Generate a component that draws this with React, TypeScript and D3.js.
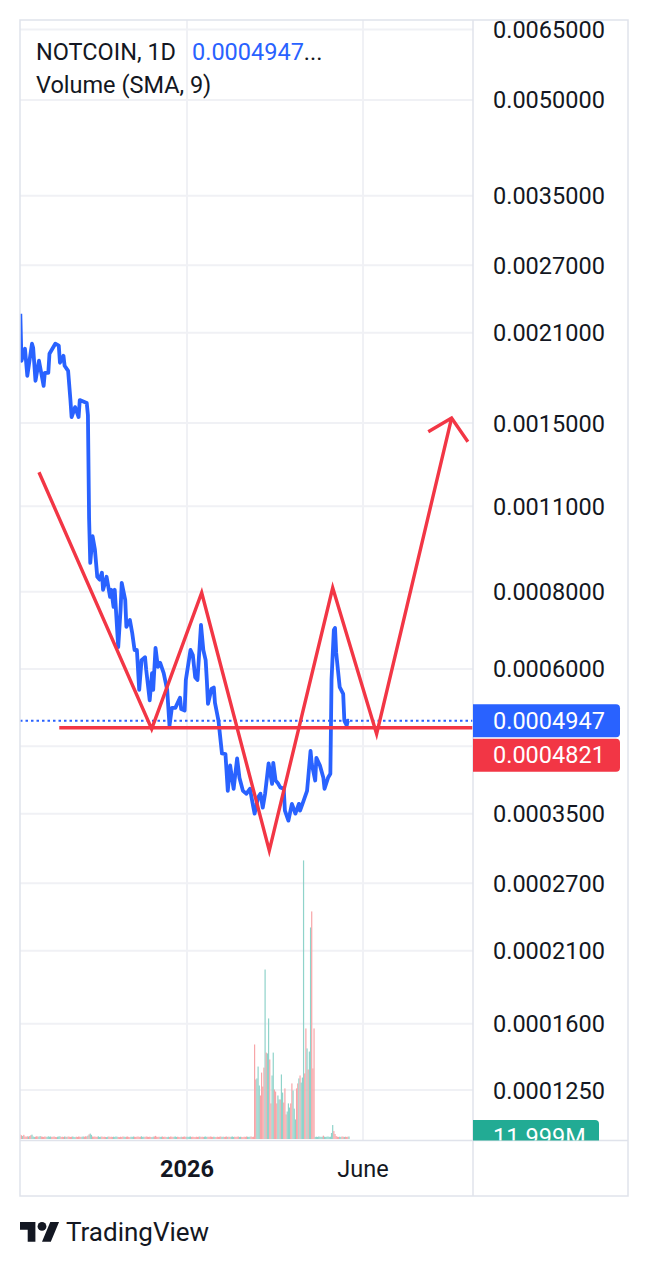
import { useEffect, useRef } from 'react';
import * as d3 from 'd3';

const W = 648;
const H = 1266;
const DAY = 86400000;
const BASE = Date.UTC(2026, 0, 1);

// price axis ticks (log scale); 0.00045 sits under the price labels
const priceTicks = [0.0065, 0.005, 0.0035, 0.0027, 0.0021, 0.0015, 0.0011, 0.0008, 0.0006, 0.00045, 0.00035, 0.00027, 0.00021, 0.00016, 0.000125];
const hiddenTicks = [0.00045];
const timeTicks = [
  { day: 0, label: '2026', bold: true },
  { day: 151, label: 'June', bold: false },
];

// daily closes, [day from 2026-01-01, price]
const closes: [number, number][] = [
  [-143, 0.002254], [-142, 0.001892], [-139, 0.001978], [-137, 0.001789], [-133, 0.002016],
  [-132, 0.001986], [-130, 0.001756], [-127, 0.001892], [-123, 0.001723], [-122, 0.001809],
  [-119, 0.001809], [-118, 0.001942], [-113, 0.002016], [-110, 0.002001], [-109, 0.001878],
  [-106, 0.001927], [-105, 0.001857], [-102, 0.001822], [-100, 0.001634], [-99, 0.001534],
  [-96, 0.001592], [-93, 0.001534], [-92, 0.001634], [-88, 0.001622], [-86, 0.001616],
  [-85, 0.001545], [-84, 0.00105], [-83, 0.000891], [-81, 0.000984], [-79, 0.000936],
  [-77, 0.000846], [-75, 0.000837], [-73, 0.000859], [-72, 0.000806], [-69, 0.000846],
  [-66, 0.000785], [-65, 0.000806], [-63, 0.000756], [-62, 0.000806], [-59, 0.000651],
  [-57, 0.000748], [-56, 0.000827], [-53, 0.000776], [-52, 0.000702], [-49, 0.00072],
  [-47, 0.000686], [-45, 0.000644], [-43, 0.000644], [-41, 0.000555], [-39, 0.00062],
  [-36, 0.000627], [-35, 0.000598], [-32, 0.000534], [-30, 0.000591], [-29, 0.000555],
  [-27, 0.000649], [-25, 0.000605], [-23, 0.000614], [-20, 0.000591], [-17, 0.000555],
  [-15, 0.000486], [-13, 0.000519], [-10, 0.000519], [-6, 0.000539], [-5, 0.000517],
  [-2, 0.000514], [-1, 0.000576], [3, 0.000644], [5, 0.000632], [7, 0.000582],
  [9, 0.000576], [12, 0.000707], [14, 0.000644], [16, 0.00062], [17, 0.000576],
  [18, 0.000527], [21, 0.000557], [23, 0.00056], [24, 0.000529], [27, 0.000495],
  [30, 0.000438], [33, 0.000437], [35, 0.000381], [37, 0.000419], [40, 0.000384],
  [43, 0.00043], [45, 0.0004], [48, 0.000381], [51, 0.000377], [54, 0.000384],
  [57, 0.000358], [58, 0.00035], [61, 0.000372], [63, 0.000377], [65, 0.000358],
  [67, 0.000377], [70, 0.000422], [73, 0.000391], [74, 0.000423], [76, 0.000396],
  [78, 0.000392], [80, 0.000386], [83, 0.000384], [84, 0.000354], [87, 0.000341],
  [90, 0.000363], [93, 0.00035], [96, 0.000363], [97, 0.000354], [100, 0.000367],
  [103, 0.000381], [104, 0.0004], [106, 0.000442], [107, 0.000422], [110, 0.000396],
  [111, 0.000431], [114, 0.000419], [117, 0.0004], [118, 0.000384], [121, 0.0004],
  [123, 0.000406], [124, 0.000576], [126, 0.000694], [127, 0.000699], [128, 0.000637],
  [131, 0.000561], [134, 0.000547], [135, 0.000495], [137, 0.000486], [138, 0.000495],
  [139, 0.0004947],
];

// daily volume in millions, first bar on day -143
const volumeStart = -143;
const volumes = [
  22, 18, 14, 20, 12, 11, 13, 12, 14, 18, 21, 12, 10, 11, 13, 12, 11, 14, 12, 11,
  10, 12, 11, 10, 13, 11, 12, 10, 11, 12, 10, 9, 11, 12, 13, 10, 11, 10, 12, 11,
  10, 12, 11, 10, 11, 12, 10, 9, 11, 10, 12, 11, 10, 11, 12, 11, 13, 12, 16, 22,
  26, 20, 12, 11, 12, 10, 11, 13, 10, 11, 12, 10, 11, 10, 9, 11, 12, 10, 11, 10,
  11, 10, 12, 11, 10, 9, 11, 10, 12, 11, 10, 11, 12, 10, 9, 11, 10, 12, 11, 10,
  11, 12, 10, 11, 13, 10, 11, 10, 12, 11, 10, 11, 10, 9, 11, 12, 15, 11, 10, 11,
  10, 11, 12, 10, 11, 10, 9, 11, 10, 12, 11, 10, 11, 12, 10, 11, 10, 9, 11, 10,
  11, 12, 10, 11, 10, 11, 12, 10, 11, 10, 9, 11, 10, 11, 12, 10, 11, 10, 11, 12,
  10, 11, 10, 12, 11, 10, 11, 10, 9, 11, 10, 11, 12, 10, 11, 10, 11, 12, 10, 11,
  10, 11, 12, 10, 11, 10, 11, 12, 10, 11, 10, 9, 11, 10, 12, 11, 10, 11, 12, 10,
  11,
  454, 286, 291, 348, 257, 209, 319, 252, 343, 814,
  415, 411, 579, 382, 171, 305, 415, 238, 228, 171,
  209, 190, 190, 310, 223, 175, 243, 118, 132, 171,
  151, 171, 267, 233, 146, 94, 243, 267, 291, 305,
  271, 295, 1338, 315, 531, 435, 334, 420, 1016, 1093,
  339, 531,
  10, 11, 10, 12, 11, 10, 11, 16, 11, 10, 11, 12, 10, 11,
  29, 67, 38, 24, 14, 11, 10, 11, 10, 12, 11, 10, 11, 10, 11, 12,
];
// u = up day (green), d = down day (red), one letter per volume bar
const volumeDirs = [
  'dduddddudd', 'uuuddduudd', 'ddduuuuddd', 'dduuudddud', 'udddduuudd',
  'ddduudddud', 'uuddddduuu', 'dddduudddd', 'uuuudddddu', 'udddduuudd',
  'dddduuuddd', 'ddduuddddd', 'uudddduudd', 'dduuudddud', 'ddduuuuddd',
  'dddduddduu', 'uddddduudd', 'ddduudddud', 'duuudddduu', 'ddddduuudd', 'd',
  'dduuuddddu', 'duudduuddd', 'uuduuddduu', 'udduuuddud', 'uuudduduud', 'dd',
  'uuuuuuuduuuuuu', 'uuddddd', 'uuddudddu',
].join('');

// analyst drawing: [day, price]
const zigzag: [number, number][] = [
  [-127, 0.001249], [-30.3, 0.00048], [12.6, 0.000797], [70.6, 0.000305],
  [125, 0.000812], [162.7, 0.000471], [227, 0.001528],
];
const arrowHead: [number, number][] = [[207, 0.001452], [227, 0.001528], [241, 0.001399]];
const supportLevel = 0.0004821;
const supportStartDay = -109.6;
const lastPrice = 0.0004947;
const lastVolumeLabel = '11.999M';

const FONT = 'Roboto, "Noto Sans", sans-serif';
const TEXT = '#131722';
const BLUE = '#2962ff';
const RED = '#f23645';

function rightRounded(x0: number, x1: number, y0: number, y1: number, r: number) {
  return `M${x0},${y0}H${x1 - r}A${r},${r} 0 0 1 ${x1},${y0 + r}V${y1 - r}A${r},${r} 0 0 1 ${x1 - r},${y1}H${x0}Z`;
}

export default function App() {
  const svgRef = useRef<SVGSVGElement>(null);

  useEffect(() => {
    if (!svgRef.current) return;
    const svg = d3.select(svgRef.current);
    svg.selectAll('*').remove();

    const left = 20, right = 628, top = 20, axisX = 473, paneBottom = 1140.5, bottom = 1196;

    const x = d3.scaleUtc()
      .domain([new Date(BASE), new Date(BASE + 151 * DAY)])
      .range([187, 363]);
    const xd = (d: number) => x(new Date(BASE + d * DAY));
    const y = d3.scaleLog().domain([0.0065, 0.000125]).range([29.5, 1090]);
    const v = d3.scaleLinear().domain([0, 1340]).range([1139, 860]);

    svg.append('rect').attr('width', W).attr('height', H).attr('fill', '#fff');

    const defs = svg.append('defs');
    defs.append('clipPath').attr('id', 'pane').append('rect')
      .attr('x', left).attr('y', top).attr('width', axisX - left).attr('height', paneBottom - top);
    defs.append('clipPath').attr('id', 'vlabel').append('rect')
      .attr('x', axisX).attr('y', 1100).attr('width', 160).attr('height', paneBottom - 1100);

    // grid
    const grid = svg.append('g').attr('stroke', '#f0f1f5').attr('stroke-width', 2);
    priceTicks.forEach(t => {
      grid.append('line').attr('x1', left).attr('x2', axisX).attr('y1', y(t)).attr('y2', y(t));
    });
    timeTicks.forEach(t => {
      grid.append('line').attr('x1', xd(t.day)).attr('x2', xd(t.day)).attr('y1', top).attr('y2', paneBottom);
    });

    const pane = svg.append('g').attr('clip-path', 'url(#pane)');

    // volume
    pane.append('g')
      .selectAll('rect')
      .data(volumes)
      .join('rect')
      .attr('x', (_, i) => xd(volumeStart + i) - 0.6)
      .attr('width', 1.2)
      .attr('y', d => v(d))
      .attr('height', d => v(0) - v(d))
      .attr('fill', (_, i) => (volumeDirs[i] === 'u' ? '#8fd3ca' : '#f7a5a8'));

    // last price dotted line
    pane.append('line')
      .attr('x1', left).attr('x2', axisX)
      .attr('y1', y(lastPrice)).attr('y2', y(lastPrice))
      .attr('stroke', BLUE).attr('stroke-width', 2).attr('stroke-dasharray', '2.5 3');

    // price line
    const line = d3.line<[number, number]>().x(d => xd(d[0])).y(d => y(d[1]));
    pane.append('path')
      .attr('d', line(closes))
      .attr('fill', 'none')
      .attr('stroke', BLUE)
      .attr('stroke-width', 3.8)
      .attr('stroke-linejoin', 'round');

    // drawings
    const draw = pane.append('g').attr('fill', 'none').attr('stroke', RED).attr('stroke-width', 3.4);
    draw.append('line')
      .attr('x1', xd(supportStartDay)).attr('x2', axisX)
      .attr('y1', y(supportLevel)).attr('y2', y(supportLevel));
    draw.append('path').attr('d', line(zigzag)).attr('stroke-linejoin', 'miter').attr('stroke-miterlimit', 12);
    draw.append('path').attr('d', line(arrowHead)).attr('stroke-linejoin', 'miter');

    // frame
    const frame = svg.append('g').attr('stroke', '#e0e3eb').attr('stroke-width', 1.5).attr('fill', 'none');
    frame.append('rect').attr('x', left).attr('y', top).attr('width', right - left).attr('height', bottom - top);
    frame.append('line').attr('x1', axisX).attr('x2', axisX).attr('y1', top).attr('y2', bottom);
    frame.append('line').attr('x1', left).attr('x2', right).attr('y1', paneBottom).attr('y2', paneBottom);

    // price axis labels
    svg.append('g')
      .selectAll('text')
      .data(priceTicks.filter(t => !hiddenTicks.includes(t)))
      .join('text')
      .attr('x', 493)
      .attr('y', d => y(d) + 8.5)
      .attr('font-family', FONT)
      .attr('font-size', 23.5)
      .attr('fill', TEXT)
      .text(d => d.toFixed(7));

    // current price / level labels
    const yLast = y(lastPrice);
    svg.append('path').attr('d', rightRounded(axisX, 620, yLast - 16.5, yLast + 16.5, 4)).attr('fill', BLUE);
    svg.append('text').attr('x', 493).attr('y', yLast + 8)
      .attr('font-family', FONT).attr('font-size', 23.5).attr('fill', '#fff').text(lastPrice.toFixed(7));
    const ySup = yLast + 34.5;
    svg.append('path').attr('d', rightRounded(axisX, 620, ySup - 16.5, ySup + 16.5, 4)).attr('fill', RED);
    svg.append('text').attr('x', 493).attr('y', ySup + 8)
      .attr('font-family', FONT).attr('font-size', 23.5).attr('fill', '#fff').text(supportLevel.toFixed(7));

    const vl = svg.append('g').attr('clip-path', 'url(#vlabel)');
    const yVol = v(volumes[volumes.length - 1]);
    vl.append('path').attr('d', rightRounded(axisX, 599, yVol - 16.5, yVol + 16.5, 4)).attr('fill', '#22ab94');
    vl.append('text').attr('x', 493).attr('y', yVol + 8.5)
      .attr('font-family', FONT).attr('font-size', 23.5).attr('fill', '#fff').text(lastVolumeLabel);

    // time axis labels
    svg.append('g')
      .selectAll('text')
      .data(timeTicks)
      .join('text')
      .attr('x', d => xd(d.day))
      .attr('y', 1177)
      .attr('text-anchor', 'middle')
      .attr('font-family', FONT)
      .attr('font-size', 23.5)
      .attr('font-weight', d => (d.bold ? 700 : 400))
      .attr('fill', TEXT)
      .text(d => d.label);

    // legend
    svg.append('text').attr('x', 36).attr('y', 59.5)
      .attr('font-family', FONT).attr('font-size', 23.5).attr('fill', TEXT).text('NOTCOIN, 1D');
    const val = svg.append('text').attr('x', 192).attr('y', 59.5)
      .attr('font-family', FONT).attr('font-size', 23.5);
    val.append('tspan').attr('fill', BLUE).text(lastPrice.toFixed(7));
    val.append('tspan').attr('fill', TEXT).text('...');
    svg.append('text').attr('x', 36).attr('y', 92.5)
      .attr('font-family', FONT).attr('font-size', 23.5).attr('fill', TEXT).text('Volume (SMA, 9)');

    // TradingView mark
    const logo = svg.append('g').attr('transform', 'translate(20,1222) scale(1.1) translate(0,-4)').attr('fill', TEXT);
    logo.append('path').attr('d', 'M14 22H7V11H0V4h14v18zM28 22h-8l7.5-18h8L28 22z');
    logo.append('circle').attr('cx', 20).attr('cy', 8).attr('r', 4);
    svg.append('text').attr('x', 66).attr('y', 1241)
      .attr('font-family', FONT).attr('font-size', 26).attr('fill', TEXT).text('TradingView');
  }, []);

  return (
    <svg ref={svgRef} width={W} height={H} style={{ position: 'absolute', left: 0, top: 0 }} />
  );
}
